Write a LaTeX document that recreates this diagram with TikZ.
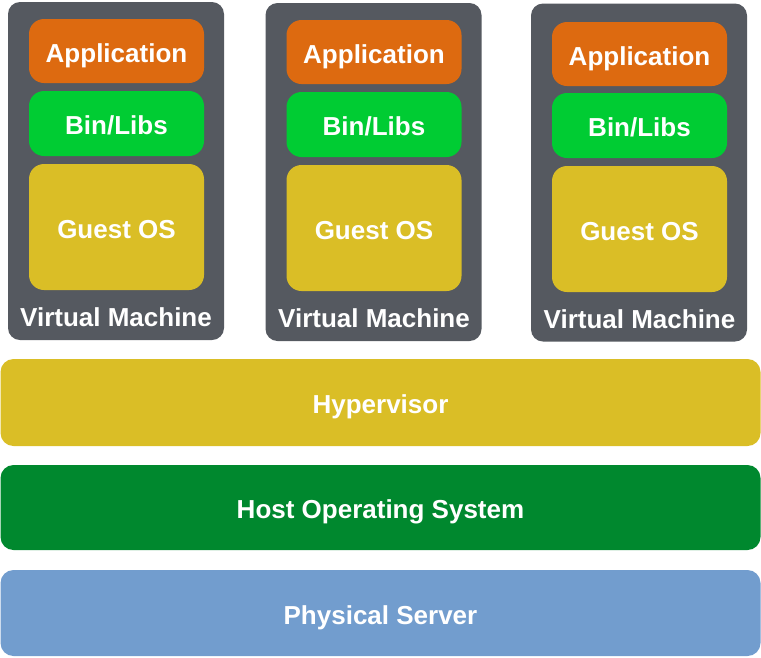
\documentclass[tikz,border=0pt]{standalone}
\usepackage{fontspec}
\setmainfont{Liberation Sans}
\definecolor{vmgray}{RGB}{85,89,96}
\definecolor{apporange}{RGB}{221,106,16}
\definecolor{bingreen}{RGB}{0,204,51}
\definecolor{osgold}{RGB}{218,190,38}
\definecolor{hostgreen}{RGB}{0,136,46}
\definecolor{serverblue}{RGB}{114,157,206}
\tikzset{
  txt/.style={text=white, font=\bfseries\fontsize{26}{30}\selectfont, text height=22.6pt, text depth=0pt},
  vmbox/.style={fill=vmgray, rounded corners=12pt, inner sep=0pt, minimum width=216pt, minimum height=338pt},
  inbox/.style={txt, rounded corners=15pt, inner sep=0pt, minimum width=175pt},
  appbox/.style={inbox, fill=apporange, minimum height=64pt},
  binbox/.style={inbox, fill=bingreen, minimum height=65pt},
  guestbox/.style={inbox, fill=osgold, minimum height=126pt},
  vmlabel/.style={text=white, font=\bfseries\fontsize{26}{30}\selectfont, text height=18.6pt, text depth=0pt, inner sep=0pt},
  layer/.style={txt, rounded corners=13pt, inner sep=0pt, minimum width=760pt}
}
\begin{document}
\begin{tikzpicture}[x=1pt,y=-1pt]
\useasboundingbox (0,0) rectangle (761,657);
% VM 1
\node[vmbox] (vm1) at (116,171) {};
\node[appbox] (app1) at (116.5,51) {Application};
\node[binbox] (bin1) at (116.5,123.5) {Bin/Libs};
\node[guestbox] (guest1) at (116.5,227) {Guest OS};
\node[vmlabel] (vml1) at (116,317.5) {Virtual Machine};
% VM 2
\node[vmbox] (vm2) at (373.5,172) {};
\node[appbox] (app2) at (374,52) {Application};
\node[binbox] (bin2) at (374,124.5) {Bin/Libs};
\node[guestbox] (guest2) at (374,228) {Guest OS};
\node[vmlabel] (vml2) at (374,318.5) {Virtual Machine};
% VM 3
\node[vmbox] (vm3) at (639,172.5) {};
\node[appbox] (app3) at (639.5,54) {Application};
\node[binbox] (bin3) at (639.5,125.5) {Bin/Libs};
\node[guestbox] (guest3) at (639.5,229) {Guest OS};
\node[vmlabel] (vml3) at (639.5,319.5) {Virtual Machine};
% layers
\node[layer, fill=osgold, minimum height=87pt] (hyp) at (380.5,402.5) {Hypervisor};
\node[layer, fill=hostgreen, minimum height=85pt] (host) at (380.5,507.5) {Host Operating System};
\node[layer, fill=serverblue, minimum height=86pt] (phys) at (380.5,613) {Physical Server};
\end{tikzpicture}
\end{document}
